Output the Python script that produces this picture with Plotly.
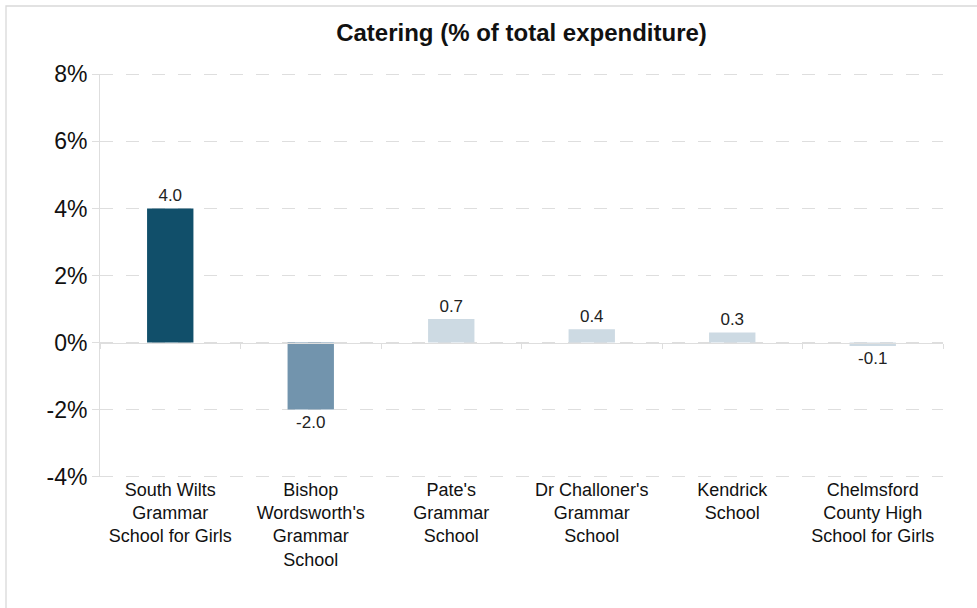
import plotly.graph_objects as go

categories = [
    "South Wilts<br>Grammar<br>School for Girls",
    "Bishop<br>Wordsworth's<br>Grammar<br>School",
    "Pate's<br>Grammar<br>School",
    "Dr Challoner's<br>Grammar<br>School",
    "Kendrick<br>School",
    "Chelmsford<br>County High<br>School for Girls",
]
values = [4.0, -2.0, 0.7, 0.4, 0.3, -0.1]
bar_colors = ["#114f6a", "#7294ad", "#cddae3", "#cddae3", "#cddae3", "#cddae3"]
y_ticks = [-4, -2, 0, 2, 4, 6, 8]
y_tick_labels = ["-4%", "-2%", "0%", "2%", "4%", "6%", "8%"]

FONT = "Liberation Sans, Arial, sans-serif"
GRID = "#dedede"

Y_MIN, Y_MAX, PAD = -4, 8, 0.1
span = (Y_MAX - Y_MIN) + 2 * PAD

W, H = 977, 608
ml, mr, mt, mb = 100, 34, 71, 128
pw, ph = W - ml - mr, H - mt - mb

fig = go.Figure()
fig.add_trace(go.Bar(
    x=categories, y=values,
    marker=dict(color=bar_colors, line=dict(width=0)),
    width=0.33,
    text=[f"{v:.1f}" for v in values],
    textposition="outside",
    textfont=dict(family=FONT, size=17, color="#222222"),
    cliponaxis=False,
    hoverinfo="skip",
))
# invisible trace carrying the zero-line axis with boundary ticks
fig.add_trace(go.Scatter(
    x=categories, y=[0] * len(categories), xaxis="x2", yaxis="y",
    mode="markers", marker=dict(opacity=0), hoverinfo="skip", showlegend=False,
))
# invisible trace carrying the vertical axis line spanning exactly the tick range
fig.add_trace(go.Scatter(
    x=categories, y=[0] * len(categories), xaxis="x", yaxis="y3",
    mode="markers", marker=dict(opacity=0), hoverinfo="skip", showlegend=False,
))

fig.update_layout(
    width=W, height=H,
    margin=dict(l=ml, r=mr, t=mt, b=mb),
    paper_bgcolor="white", plot_bgcolor="rgba(0,0,0,0)",
    showlegend=False,
    title=dict(
        text="<b>Catering (% of total expenditure)</b>",
        font=dict(family=FONT, size=24, color="#111111"),
        x=(ml + pw / 2) / W, xanchor="center",
        y=1 - 33 / H, yanchor="middle",
    ),
    xaxis=dict(
        range=[-0.5, 5.5],
        anchor="free", position=PAD / span,
        showline=False, ticks="", showgrid=False, zeroline=False,
        tickfont=dict(family=FONT, size=18, color="#111111"),
        fixedrange=True,
    ),
    xaxis2=dict(
        overlaying="x", anchor="free", position=(0 - Y_MIN + PAD) / span,
        range=[-0.5, 5.5], matches="x",
        showline=True, linecolor=GRID, linewidth=1.3,
        ticks="outside", tickson="boundaries", ticklen=5, tickcolor=GRID, tickwidth=1.3,
        showticklabels=False, showgrid=False, zeroline=False,
    ),
    yaxis=dict(
        range=[Y_MIN - PAD, Y_MAX + PAD],
        tickvals=y_ticks, ticktext=y_tick_labels,
        tickfont=dict(family=FONT, size=23, color="#111111"),
        showline=False,
        ticks="outside", ticklen=7, tickcolor=GRID, tickwidth=1.3,
        showgrid=True, gridcolor=GRID, gridwidth=1.3, griddash="13px,13px",
        zeroline=False,
    ),
    yaxis3=dict(
        anchor="x", domain=[PAD / span, 1 - PAD / span],
        range=[Y_MIN, Y_MAX],
        showline=True, linecolor=GRID, linewidth=1.3,
        ticks="", showticklabels=False, showgrid=False, zeroline=False,
    ),
    shapes=[dict(
        type="rect", xref="paper", yref="paper",
        x0=(6 - ml) / pw, x1=1 + (mr + 10) / pw,
        y0=-(mb + 10) / ph, y1=1 + (mt - 6) / ph,
        line=dict(color="#d9d9d9", width=1.3), fillcolor="rgba(0,0,0,0)",
        layer="below",
    )],
)

fig.write_html(
    "out.html",
    config={"displayModeBar": False},
    post_script="document.body.style.margin='0';document.body.style.overflow='hidden';",
)
